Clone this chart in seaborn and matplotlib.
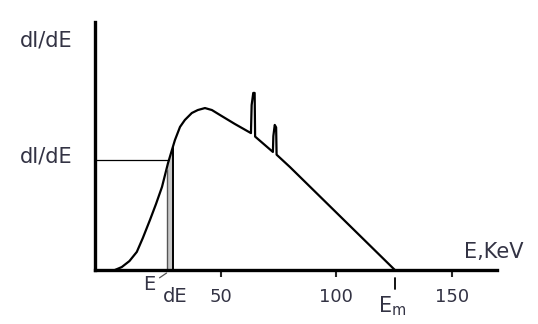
import numpy as np
import pandas as pd
import matplotlib
matplotlib.use("Agg")
import matplotlib.pyplot as plt
import seaborn as sns

# -------------------------------------------------------
# Spectrum (energy in keV, intensity in arbitrary units)
# -------------------------------------------------------
energy = [4.1, 7.1, 10.4, 13.6, 16.2, 19.3, 21.9, 24.5, 27.1, 28.8, 30.1, 32.3,
          34.4, 37.4, 40.0, 43.1, 46.1, 49.6, 56.0, 63.0, 63.3, 64.0, 64.6,
          64.8, 72.5, 72.7, 73.3, 73.9, 74.1, 79.9, 125.3]
intensity = [0.0, 1.2, 3.6, 7.3, 12.9, 20.2, 26.6, 33.5, 43.1, 48.4, 52.4, 57.7,
             60.5, 63.3, 64.5, 65.3, 64.5, 62.5, 58.9, 55.2, 66.5, 71.4, 71.4,
             53.8, 47.6, 54.0, 58.5, 57.5, 46.5, 41.5, 0.0]

tick_values = [50, 100, 150]
e_selected = 26.5   # "E" marker
de_width = 2.7      # width of the dE strip
e_max = 125.3       # cut-off energy E_m

df = pd.DataFrame({"E": energy, "I": intensity})

sns.set_style("white")
plt.rcParams["font.family"] = ["DejaVu Sans"]

W, H = 538, 324
fig = plt.figure(figsize=(W / 100, H / 100), dpi=100)
ax = fig.add_axes([95 / W, 54 / H, 402 / W, 248 / H])

# spectrum curve
sns.lineplot(data=df, x="E", y="I", ax=ax, color="black", linewidth=1.6,
             sort=False, estimator=None)

# dE strip under the curve
e_strip = np.linspace(e_selected, e_selected + de_width, 20)
ax.fill_between(e_strip, 0, np.interp(e_strip, energy, intensity),
                color="#c8c8c8", linewidth=0)
ax.vlines(e_selected, 0, np.interp(e_selected, energy, intensity),
          color="#555555", linewidth=1.0)
ax.vlines(e_selected + de_width, 0, np.interp(e_selected + de_width, energy, intensity),
          color="black", linewidth=1.4)

# dI/dE level line
level = np.interp(e_selected + 1.0, energy, intensity)
ax.hlines(level, -4.5, e_selected + 1.0, color="black", linewidth=0.9)

ax.set_xlim(-4.5, 169.5)
ax.set_ylim(0, 100)

# axes styling
for side in ["top", "right"]:
    ax.spines[side].set_visible(False)
for side in ["left", "bottom"]:
    ax.spines[side].set_linewidth(2.4)
    ax.spines[side].set_color("black")

ax.set_xticks(tick_values)
ax.set_xticklabels([str(t) for t in tick_values], fontsize=13, color="#333344")
ax.tick_params(axis="x", direction="out", length=5, width=1.5, pad=8, bottom=True)
ax.set_yticks([])
ax.set_xlabel("")
ax.set_ylabel("")

# E_m marker below the axis
ax.plot([e_max, e_max], [-3.2, -7.7], color="black", linewidth=1.3, clip_on=False)

# text labels
txt = dict(color="#333344", ha="center", va="center")
fig.text(46 / W, 1 - 41 / H, "dI/dE", fontsize=15, **txt)
fig.text(46 / W, 1 - 157 / H, "dI/dE", fontsize=15, **txt)
fig.text(494 / W, 1 - 252 / H, "E,KeV", fontsize=15, **txt)
fig.text(392 / W, 1 - 306 / H, r"E$_{\mathregular{m}}$", fontsize=15, **txt)
fig.text(175 / W, 1 - 296 / H, "dE", fontsize=14, **txt)
ax.annotate("E", xy=(e_selected, -1.2), xytext=(149 / W, 1 - 285 / H),
            textcoords="figure fraction", fontsize=14, annotation_clip=False,
            arrowprops=dict(arrowstyle="-", color="#555555", linewidth=0.9,
                            shrinkA=1, shrinkB=0), **txt)

fig.savefig("out.png", dpi=100)
